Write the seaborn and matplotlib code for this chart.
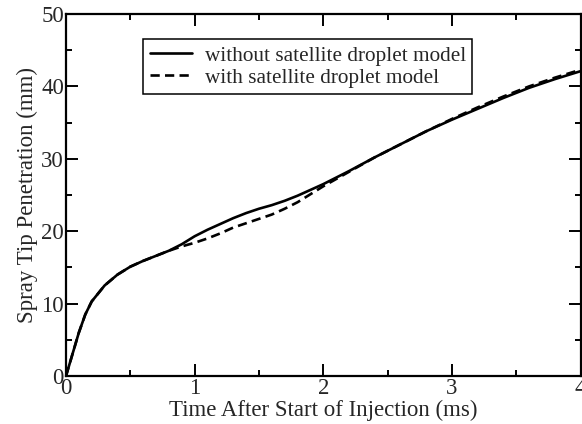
import matplotlib
matplotlib.use("Agg")
import matplotlib.pyplot as plt
import seaborn as sns
import pandas as pd
from matplotlib.ticker import MultipleLocator

time_ms = [0, 0.05, 0.1, 0.15, 0.2, 0.3, 0.4, 0.5, 0.6, 0.7, 0.8, 0.9, 1.0, 1.1, 1.2,
           1.3, 1.4, 1.5, 1.6, 1.7, 1.8, 1.9, 2.0, 2.2, 2.4, 2.6, 2.8, 3.0, 3.2, 3.4,
           3.6, 3.8, 4.0]
without_sat = [0, 3.0, 6.0, 8.5, 10.3, 12.5, 14.0, 15.1, 15.9, 16.6, 17.3, 18.2, 19.3,
               20.2, 21.0, 21.8, 22.5, 23.1, 23.6, 24.2, 24.9, 25.7, 26.5, 28.3, 30.2,
               32.0, 33.8, 35.4, 36.9, 38.4, 39.8, 41.0, 42.1]
with_sat = [0, 3.0, 6.0, 8.5, 10.3, 12.5, 14.0, 15.1, 15.9, 16.6, 17.3, 17.9, 18.4,
            19.0, 19.7, 20.5, 21.1, 21.7, 22.3, 23.1, 24.0, 25.1, 26.2, 28.2, 30.2,
            32.0, 33.8, 35.5, 37.1, 38.6, 40.0, 41.2, 42.3]
labels = ["without satellite droplet model", "with satellite droplet model"]
x_label = "Time After Start of Injection (ms)"
y_label = "Spray Tip Penetration (mm)"

df = pd.DataFrame({
    "t": time_ms * 2,
    "s": without_sat + with_sat,
    "model": [labels[0]] * len(time_ms) + [labels[1]] * len(time_ms),
})

sns.set_style("ticks")
plt.rcParams["font.family"] = ["Liberation Serif", "DejaVu Serif"]

fig = plt.figure(figsize=(5.82, 4.24), dpi=100)
ax = fig.add_axes([66 / 582, 48 / 424, 514.5 / 582, 362 / 424])

sns.lineplot(data=df, x="t", y="s", style="model", style_order=labels,
             dashes={labels[0]: "", labels[1]: (3.5, 2.0)}, color="black",
             linewidth=1.9, ax=ax, legend=True)

ax.set_xlim(0, 4)
ax.set_ylim(0, 50)
ax.xaxis.set_major_locator(MultipleLocator(1))
ax.xaxis.set_minor_locator(MultipleLocator(0.5))
ax.yaxis.set_major_locator(MultipleLocator(10))
ax.yaxis.set_minor_locator(MultipleLocator(5))
ax.tick_params(which="both", direction="in", top=True, right=True, width=1.4,
               color="black", labelsize=16.5, pad=1.5)
ax.tick_params(which="major", length=8.5)
ax.tick_params(which="minor", length=4.3)
for sp in ax.spines.values():
    sp.set_visible(True)
    sp.set_linewidth(1.6)
    sp.set_color("black")

ax.set_xlabel(x_label, fontsize=16.5, labelpad=0.5)
ax.set_ylabel(y_label, fontsize=16.5, labelpad=2)

leg = ax.legend(loc="upper left", bbox_to_anchor=(0.15, 0.93), borderaxespad=0,
                fontsize=15.3, frameon=True, fancybox=False, handlelength=2.0,
                labelspacing=0.1, borderpad=0.3, handletextpad=0.6)
leg.get_frame().set_edgecolor("black")
leg.get_frame().set_linewidth(1.1)
leg.get_frame().set_alpha(1)

fig.savefig("out.png", dpi=100)
